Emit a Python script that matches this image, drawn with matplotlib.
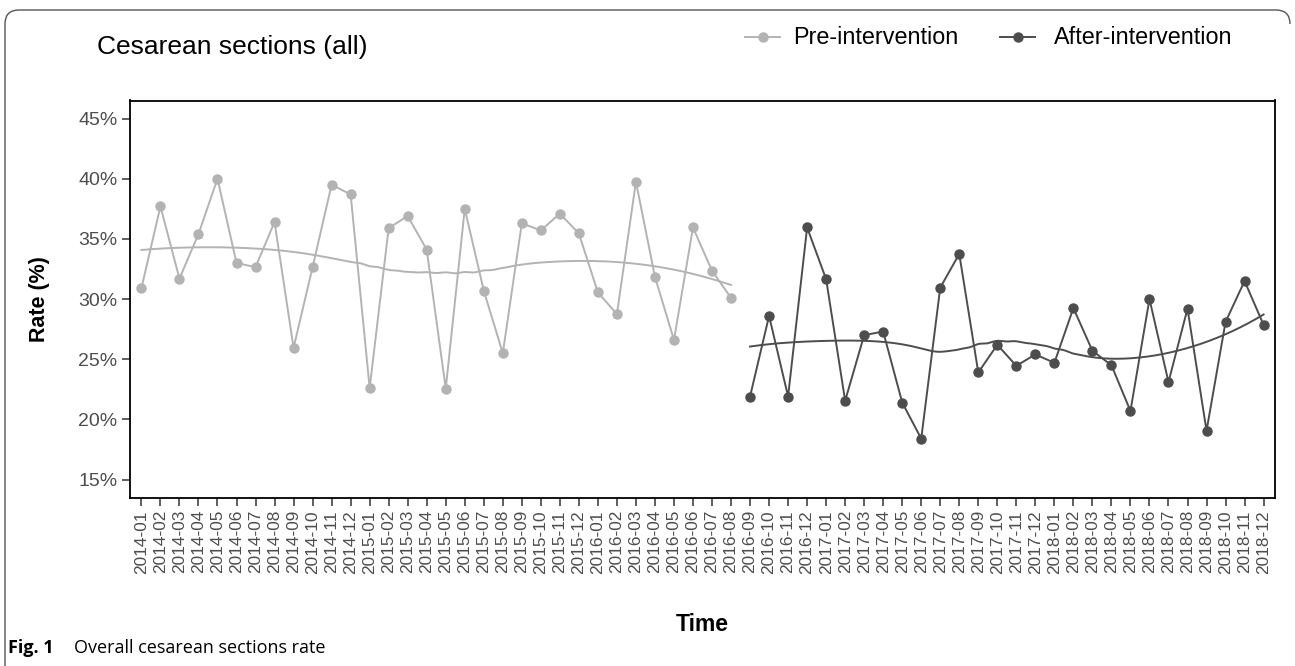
import numpy as np
import matplotlib
matplotlib.use("Agg")
import matplotlib.pyplot as plt
from matplotlib.path import Path
from matplotlib.patches import PathPatch

plt.rcParams['font.family'] = ['Liberation Sans', 'DejaVu Sans']

# monthly labels 2014-01 .. 2018-12
months = [f"{y}-{m:02d}" for y in range(2014, 2019) for m in range(1, 13)]

pre_rate = [30.9, 37.7, 31.7, 35.4, 40.0, 33.0, 32.65, 36.4, 25.95, 32.65, 39.5, 38.7,
            22.6, 35.9, 36.9, 34.1, 22.55, 37.5, 30.7, 25.5, 36.3, 35.7, 37.1, 35.45,
            30.55, 28.75, 39.75, 31.85, 26.6, 35.95, 32.35, 30.1]
post_rate = [21.9, 28.6, 21.9, 35.95, 31.65, 21.55, 27.0, 27.3, 21.4, 18.4, 30.95, 33.75,
             23.9, 26.2, 24.45, 25.4, 24.7, 29.25, 25.7, 24.5, 20.7, 30.0, 23.1, 29.2,
             19.05, 28.1, 31.5, 27.85]

pre_col = "#b3b3b3"
post_col = "#4d4d4d"


def loess(x, y, xs, span=0.75):
    # local quadratic fit with tricube weights (ggplot's default smoother)
    x = np.asarray(x, float)
    y = np.asarray(y, float)
    n = len(x)
    q = int(np.floor(span * n))
    out = []
    for x0 in xs:
        d = np.abs(x - x0)
        h = np.sort(d)[q - 1]
        w = np.clip(1 - (d / h) ** 3, 0, None) ** 3
        X = np.vstack([np.ones(n), x - x0, (x - x0) ** 2]).T
        W = np.sqrt(w)
        beta = np.linalg.lstsq(X * W[:, None], y * W, rcond=None)[0]
        out.append(beta[0])
    return np.array(out)


x_pre = np.arange(len(pre_rate))
x_post = np.arange(len(pre_rate), len(pre_rate) + len(post_rate))

W, H = 1295, 666
fig = plt.figure(figsize=(W / 100, H / 100), dpi=100)

# panel
ax = fig.add_axes([130 / W, 1 - 497.6 / H, 1145 / W, 397.1 / H])

ax.plot(x_pre, pre_rate, color=pre_col, lw=1.4, marker='o', ms=6.5, zorder=3)
ax.plot(x_post, post_rate, color=post_col, lw=1.4, marker='o', ms=6.5, zorder=3)

xs = np.linspace(x_pre[0], x_pre[-1], 200)
ax.plot(xs, loess(x_pre, pre_rate, xs), color=pre_col, lw=1.4, zorder=2)
xs = np.linspace(x_post[0], x_post[-1], 200)
ax.plot(xs, loess(x_post, post_rate, xs), color=post_col, lw=1.4, zorder=2)

ax.set_xlim(-0.6, len(months) - 0.4)
ax.set_ylim(13.5, 46.5)
ax.set_yticks([15, 20, 25, 30, 35, 40, 45])
ax.set_yticklabels([f"{v}%" for v in [15, 20, 25, 30, 35, 40, 45]])
ax.set_xticks(range(len(months)))
ax.set_xticklabels(months, rotation=90)

for s in ax.spines.values():
    s.set_linewidth(1.3)
    s.set_color("black")
ax.tick_params(axis='both', length=6, width=1.1, color="#333333",
               labelcolor="#4d4d4d", pad=3)
ax.tick_params(axis='y', labelsize=14)
ax.tick_params(axis='x', labelsize=12.4)

ax.set_ylabel("Rate (%)", fontsize=15.5, fontweight='bold', labelpad=20)
ax.set_xlabel("Time", fontsize=16.5, fontweight='bold', labelpad=28)

# title and legend above the panel
fig.text(97 / W, 1 - 47 / H, "Cesarean sections (all)", fontsize=19,
         va='center', ha='left')

leg = [("Pre-intervention", pre_col, 745, 793), ("After-intervention", post_col, 1000, 1054)]
for label, col, x0, xt in leg:
    fig.add_artist(plt.Line2D([x0 / W, (x0 + 35) / W], [1 - 37 / H] * 2,
                              color=col, lw=1.4))
    fig.add_artist(plt.Line2D([(x0 + 17.5) / W], [1 - 37 / H], color=col,
                              marker='o', ms=6.5, lw=0))
    fig.text(xt / W, 1 - 37 / H, label, fontsize=16.8, va='center',
             ha='left')

# page frame with rounded top corners
r = 14
verts = [(1290, 24), (1290, 10 + r), (1290, 10), (1290 - r, 10),
         (5 + r, 10), (5, 10), (5, 10 + r), (5, 670)]
codes = [Path.MOVETO, Path.LINETO, Path.CURVE3, Path.CURVE3,
         Path.LINETO, Path.CURVE3, Path.CURVE3, Path.LINETO]
verts = [(vx / W, 1 - vy / H) for vx, vy in verts]
fig.add_artist(PathPatch(Path(verts, codes), transform=fig.transFigure,
                         fill=False, lw=1.0, edgecolor="#555555"))

# caption
fig.text(8 / W, 1 - 648 / H, "Fig. 1", fontsize=13, fontweight='bold',
         family=['Open Sans', 'DejaVu Sans'], va='center', ha='left')
fig.text(74 / W, 1 - 648 / H, "Overall cesarean sections rate", fontsize=13,
         family=['Open Sans', 'DejaVu Sans'], va='center', ha='left')

fig.savefig("out.png", dpi=100)
